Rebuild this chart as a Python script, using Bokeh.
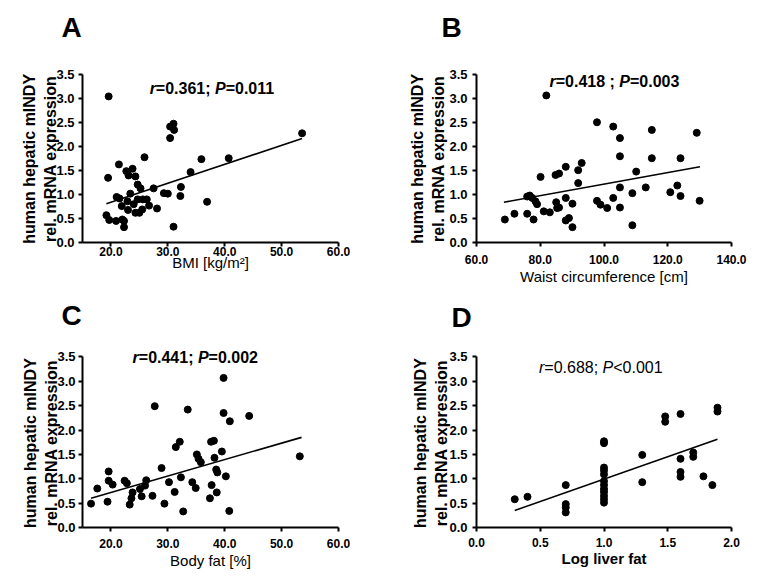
from bokeh.plotting import figure
from bokeh.models import Range1d, FixedTicker, PrintfTickFormatter, Label
from bokeh.layouts import gridplot
from bokeh.embed import file_html
from bokeh.resources import INLINE

# ---- data ----
y_ticks = [0.0, 0.5, 1.0, 1.5, 2.0, 2.5, 3.0, 3.5]
y_lines = ["human hepatic mINDY", "rel. mRNA expression"]

# A: BMI
bmi_x = [19.6, 19.5, 19.2, 19.7, 21.4, 21.0, 21.5, 20.9, 21.9, 22.0, 22.3, 22.3,
         22.7, 23.1, 23.8, 23.4, 22.9, 23.0, 24.0, 24.3, 24.3, 24.7, 24.7, 25.0,
         25.2, 25.6, 25.5, 25.9, 26.3, 26.7, 27.5, 28.1, 29.3, 30.0, 30.4, 30.4,
         31.0, 31.1, 31.0, 32.2, 32.3, 34.0, 35.9, 36.9, 40.7, 53.6]
bmi_y = [3.05, 1.35, 0.57, 0.47, 1.63, 0.95, 0.92, 0.45, 0.76, 0.48, 0.32, 0.45,
         1.49, 1.40, 1.54, 1.02, 0.86, 0.68, 0.80, 1.38, 0.62, 1.21, 0.90, 0.62,
         1.13, 0.90, 0.69, 1.78, 0.90, 0.77, 1.13, 0.71, 1.03, 1.02, 2.18, 2.42,
         2.48, 2.35, 0.33, 0.97, 1.16, 1.47, 1.74, 0.85, 1.76, 2.28]
bmi_fit_x = [19.2, 53.6]
bmi_fit_y = [0.81, 2.17]
bmi_ticks = [20, 30, 40, 50, 60]

# B: waist circumference
waist_x = [68.9, 71.9, 75.9, 75.9, 76.7, 77.5, 77.9, 78.5, 79.0, 80.1, 81.1, 81.9,
           83.0, 84.8, 85.9, 85.0, 85.3, 85.9, 88.0, 88.0, 88.0, 89.0, 90.1, 90.1,
           91.9, 91.9, 93.0, 97.8, 97.8, 98.9, 101.0, 102.9, 102.9, 105.0, 105.0,
           105.0, 105.0, 108.9, 108.9, 110.1, 113.1, 115.0, 115.0, 120.8, 123.0,
           124.0, 124.0, 129.1, 130.0]
waist_y = [0.48, 0.60, 0.60, 0.96, 0.98, 0.93, 0.48, 0.86, 0.80, 1.37, 0.65, 3.07,
           0.63, 1.41, 1.44, 0.84, 0.72, 0.73, 1.58, 0.93, 0.46, 0.51, 0.81, 0.32,
           1.51, 1.24, 1.66, 2.51, 0.87, 0.79, 0.72, 2.42, 0.93, 2.18, 1.80,
           1.15, 0.73, 1.03, 0.36, 1.48, 1.15, 2.35, 1.76, 1.05, 1.19,
           1.76, 0.97, 2.29, 0.87]
waist_fit_x = [68.6, 130.1]
waist_fit_y = [0.84, 1.58]
waist_ticks = [60, 80, 100, 120, 140]

# C: body fat
fat_x = [16.5, 17.6, 19.4, 19.6, 19.6, 20.3, 22.4, 22.8, 23.3, 23.6, 23.8, 25.1,
         25.4, 26.0, 26.2, 27.3, 27.7, 28.9, 29.4, 30.2, 31.2, 31.4, 32.1, 32.3,
         32.7, 33.5, 34.3, 34.9, 35.1, 35.4, 35.8, 37.4, 37.6, 37.7, 38.1, 38.2,
         38.5, 38.7, 38.6, 39.5, 39.8, 39.8, 40.2, 40.8, 40.9, 44.3, 53.2]
fat_y = [0.49, 0.80, 0.53, 1.15, 0.96, 0.88, 0.96, 0.91, 0.47, 0.60, 0.72, 0.79,
         0.64, 0.86, 0.97, 0.65, 2.49, 1.22, 0.49, 0.93, 0.73, 1.65, 1.76, 1.03,
         0.33, 2.42, 0.93, 0.81, 1.50, 1.41, 1.34, 0.60, 1.76, 0.87, 1.78, 1.43,
         1.19, 1.13, 0.72, 1.56, 3.07, 2.35, 1.05, 0.34, 2.18, 2.29, 1.46]
fat_fit_x = [16.5, 53.5]
fat_fit_y = [0.60, 1.85]
fat_ticks = [20, 30, 40, 50, 60]

# D: log liver fat
liver_x = [0.30, 0.40, 0.70, 0.70, 0.70, 0.70,
           1.0, 1.0, 1.0, 1.0, 1.0, 1.0, 1.0, 1.0, 1.0, 1.0, 1.0, 1.0,
           1.30, 1.30, 1.48, 1.48, 1.60, 1.60, 1.60, 1.60, 1.70, 1.70,
           1.78, 1.85, 1.89, 1.89]
liver_y = [0.58, 0.63, 0.87, 0.48, 0.41, 0.31,
           1.77, 1.73, 1.23, 1.17, 1.09, 0.95, 0.87, 0.79, 0.73, 0.65, 0.58, 0.51,
           1.49, 0.93, 2.28, 2.17, 2.33, 1.41, 1.14, 1.04, 1.54, 1.45,
           1.05, 0.87, 2.46, 2.38]
liver_fit_x = [0.30, 1.89]
liver_fit_y = [0.35, 1.81]
liver_ticks = [0.0, 0.5, 1.0, 1.5, 2.0]

stats_r = ["=0.361; ", "=0.418 ; ", "=0.441; ", "=0.688; "]
stats_p = ["=0.011", "=0.003", "=0.002", "<0.001"]

FONT = "Liberation Sans"
NBSP = "\u00a0"

# rough Arial/Liberation advance widths (per 1000 em) to lay out mixed italic text
W_BOLD = {c: 556 for c in "0123456789"}
W_BOLD.update({".": 278, "=": 584, "<": 584, ";": 333, " ": 278})
W_REG = dict(W_BOLD)
W_REG[";"] = 278


def text_width(s, table, size):
    return sum(table[c] for c in s) * size / 1000.0


def add_stat(p, x, y, r_txt, p_txt, bold=True, size=16):
    table = W_BOLD if bold else W_REG
    base = "bold" if bold else "normal"
    ital = "bold italic" if bold else "italic"
    r_w = (389 if bold else 333) * size / 1000.0
    P_w = 667 * size / 1000.0
    parts = [("r", ital, r_w),
             (r_txt, base, text_width(r_txt, table, size)),
             ("P", ital, P_w),
             (p_txt, base, text_width(p_txt, table, size))]
    off = 0
    for txt, style, w in parts:
        p.add_layout(Label(x=x, y=y, x_offset=off, text=txt, text_font=FONT,
                           text_font_size="%dpx" % size, text_font_style=style,
                           text_baseline="middle", text_color="black"))
        off += w


def panel(xs, ys, fx, fy, xr, y_end, xticks, xlabel, letter, letter_off,
          letter_standoff, width, height, borders, x_standoffs, y_standoffs,
          pad, xlabel_bold=False):
    left, right, top, bottom = borders
    p = figure(width=width, height=height, x_range=Range1d(*xr),
               y_range=Range1d(0, y_end), output_backend="svg",
               toolbar_location=None, min_border_left=left,
               min_border_right=right, min_border_top=top,
               min_border_bottom=bottom)
    p.grid.visible = False
    p.outline_line_color = None
    p.background_fill_color = "white"
    p.border_fill_color = "white"

    # panel letter as the title
    p.title.text = letter
    p.title.align = "left"
    p.title.offset = letter_off
    p.title.standoff = letter_standoff
    p.title.text_font = FONT
    p.title.text_font_size = "28px"
    p.title.text_font_style = "bold"
    p.title.text_color = "black"

    p.xaxis.ticker = FixedTicker(ticks=xticks)
    p.yaxis.ticker = FixedTicker(ticks=y_ticks)
    p.yaxis.bounds = (0, 3.5)
    p.xaxis.formatter = PrintfTickFormatter(format="%.1f")
    p.yaxis.formatter = PrintfTickFormatter(format="%.1f")
    for ax in (p.xaxis, p.yaxis):
        ax.axis_line_width = 2
        ax.axis_line_color = "black"
        ax.major_tick_line_width = 2
        ax.major_tick_line_color = "black"
        ax.major_tick_out = 4
        ax.major_tick_in = 0
        ax.minor_tick_line_color = None
        ax.major_label_text_font = FONT
        ax.major_label_text_font_style = "bold"
        ax.major_label_text_color = "black"
        ax.axis_label_text_font = FONT
        ax.axis_label_text_color = "black"
    p.xaxis.major_label_text_font_size = "12px"
    p.yaxis.major_label_text_font_size = "13px"

    p.xaxis.major_label_standoff = x_standoffs[0]
    p.xaxis.axis_label_standoff = x_standoffs[1]
    p.yaxis.major_label_standoff = y_standoffs[0]
    p.yaxis.axis_label_standoff = y_standoffs[1]
    p.xaxis.axis_label = xlabel
    p.xaxis.axis_label_text_font_size = "15px"
    p.xaxis.axis_label_text_font_style = "bold" if xlabel_bold else "normal"
    # frame runs above 3.5 (room for letter), so pad the label's top end
    p.yaxis.axis_label = "\n".join(s + NBSP * pad for s in y_lines)
    p.yaxis.axis_label_text_font_size = "16px"
    p.yaxis.axis_label_text_font_style = "bold"
    p.yaxis.axis_label_text_line_height = 1.25

    p.line(fx, fy, line_color="black", line_width=1.6)
    p.scatter(xs, ys, marker="circle", size=7, fill_color="black",
              line_color="black")
    return p


a = panel(bmi_x, bmi_y, bmi_fit_x, bmi_fit_y, (15, 60), 4.05, bmi_ticks,
          "BMI [kg/m²]", "A", -21, 11, 380, 290, (82, 42, 48, 48),
          (0, -5), (4, -6), 6)
add_stat(a, 26.8, 3.21, stats_r[0], stats_p[0])

b = panel(waist_x, waist_y, waist_fit_x, waist_fit_y, (60, 140), 4.05,
          waist_ticks, "Waist circumference [cm]", "B", -35, 12, 372, 290,
          (96, 21, 48, 48), (8, 1), (5, -1), 6)
add_stat(b, 82.9, 3.36, stats_r[1], stats_p[1])

c = panel(fat_x, fat_y, fat_fit_x, fat_fit_y, (15, 60), 3.92, fat_ticks,
          "Body fat [%]", "C", -21, 11, 380, 287, (82, 42, 46, 50),
          (7, 1), (3, -6), 5)
add_stat(c, 23.8, 3.48, stats_r[2], stats_p[2])

d = panel(liver_x, liver_y, liver_fit_x, liver_fit_y, (0, 2), 3.92, liver_ticks,
          "Log liver fat", "D", -25, 8, 372, 287, (96, 21, 46, 50),
          (6, 0), (5, -4), 5, xlabel_bold=True)
add_stat(d, 0.49, 3.29, stats_r[3], stats_p[3], bold=False)

grid = gridplot([[a, b], [c, d]], toolbar_location=None)

open("out.html", "w").write(file_html(grid, INLINE))
